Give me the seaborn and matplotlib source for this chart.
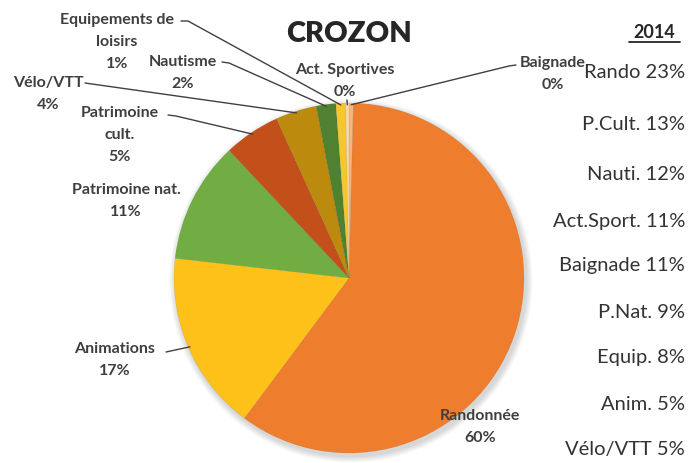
import matplotlib
matplotlib.use("Agg")
import matplotlib.pyplot as plt
import seaborn as sns
import numpy as np
from matplotlib.lines import Line2D

sns.set_theme(style="white")
plt.rcParams['font.family'] = ['Lato', 'DejaVu Sans']

# ---- data ----
categories = ["Baignade", "Randonnée", "Animations", "Patrimoine nat.",
              "Patrimoine cult.", "Vélo/VTT", "Nautisme",
              "Equipements de loisirs", "Act. Sportives"]
values = [0.4, 59.8, 16.6, 11.2, 5.2, 3.8, 1.8, 0.9, 0.3]
label_texts = ["Baignade", "Randonnée", "Animations", "Patrimoine nat.",
               "Patrimoine\ncult.", "Vélo/VTT", "Nautisme",
               "Equipements de\nloisirs", "Act. Sportives"]
colors = ["#F6B77E", "#EE7D2E", "#FDC11A", "#71AD43", "#C3501B",
          "#BC8A0C", "#4F8131", "#F5C62E", "#F9D9A6"]

title = "CROZON"
side_year = "2014"
side_labels = ["Rando 23%", "P.Cult. 13%", "Nauti. 12%", "Act.Sport. 11%",
               "Baignade 11%", "P.Nat. 9%", "Equip. 8%", "Anim. 5%",
               "Vélo/VTT 5%"]

# ---- layout (pixel space) ----
W, H = 688, 464
def Y(py):
    return H - py

CX, CY, R = 349, 279, 175
TXT = "#3F3F3F"
LINE_H = 22  # px between label lines

fig = plt.figure(figsize=(W / 100, H / 100), dpi=100)
ax = fig.add_axes([0, 0, 1, 1])

# soft shadow
for k in range(8):
    ax.add_patch(plt.Circle((CX + 2, Y(CY) - 3), R + 1 + k * 0.8,
                            color="#000000", alpha=0.018, lw=0, zorder=0))

wedges, _ = ax.pie(values, colors=colors, startangle=90, counterclock=False,
                   center=(CX, Y(CY)), radius=R,
                   wedgeprops=dict(linewidth=0.4, edgecolor=(0, 0, 0, 0.08)))
for w in wedges:
    w.set_zorder(2)

total = sum(values)
pcts = [f"{round(v / total * 100):d}%" for v in values]

def edge_point(i, rr=1.0):
    w = wedges[i]
    a = np.deg2rad((w.theta1 + w.theta2) / 2)
    return CX + R * rr * np.cos(a), Y(CY) + R * rr * np.sin(a)

# label layout: (center x, y of first line in px), leader points px
layout = {
    0: ((553, 63), [(516, 66), (509, 67)]),
    1: ((480, 416), None),
    2: ((115, 349), [(166, 353)]),
    3: ((126, 190), None),
    4: ((120, 113), [(168, 116), (176, 117)]),
    5: ((48, 83), [(85, 84), (92, 85)]),
    6: ((183, 62), [(222, 63), (229, 64)]),
    7: ((117, 20), [(181, 22), (188, 22)]),
    8: ((345, 70), [(347, 101)]),
}

for i, ((lx, ly), lead) in layout.items():
    lines = label_texts[i].split("\n") + [pcts[i]]
    for j, ln in enumerate(lines):
        ax.text(lx, Y(ly + j * LINE_H), ln, ha="center", va="center",
                fontsize=11.5, fontweight="bold", color=TXT, zorder=5)
    if lead:
        xs = [p[0] for p in lead]
        ys = [Y(p[1]) for p in lead]
        ex, ey = edge_point(i, 0.99)
        xs.append(ex)
        ys.append(ey)
        ax.add_line(Line2D(xs, ys, color="#404040", lw=1.0, zorder=4))

# title
ax.text(CX, Y(34), title, ha="center", va="center", fontsize=21,
        fontweight="heavy", color="#262626", zorder=5)

# side list
ax.text(654, Y(33), side_year, ha="center", va="center", fontsize=13,
        fontweight="bold", color="#262626")
ax.add_line(Line2D([629, 680], [Y(43), Y(43)], color="#262626", lw=1.3))
side_y = [73, 125, 175, 222, 265, 312, 358, 405, 450]
for s, py in zip(side_labels, side_y):
    ax.text(685, Y(py), s, ha="right", va="center", fontsize=14.5,
            color="#333333")

ax.set_xlim(0, W)
ax.set_ylim(0, H)
ax.set_aspect("equal")
ax.axis("off")

fig.savefig("out.png", dpi=100, facecolor="white")
